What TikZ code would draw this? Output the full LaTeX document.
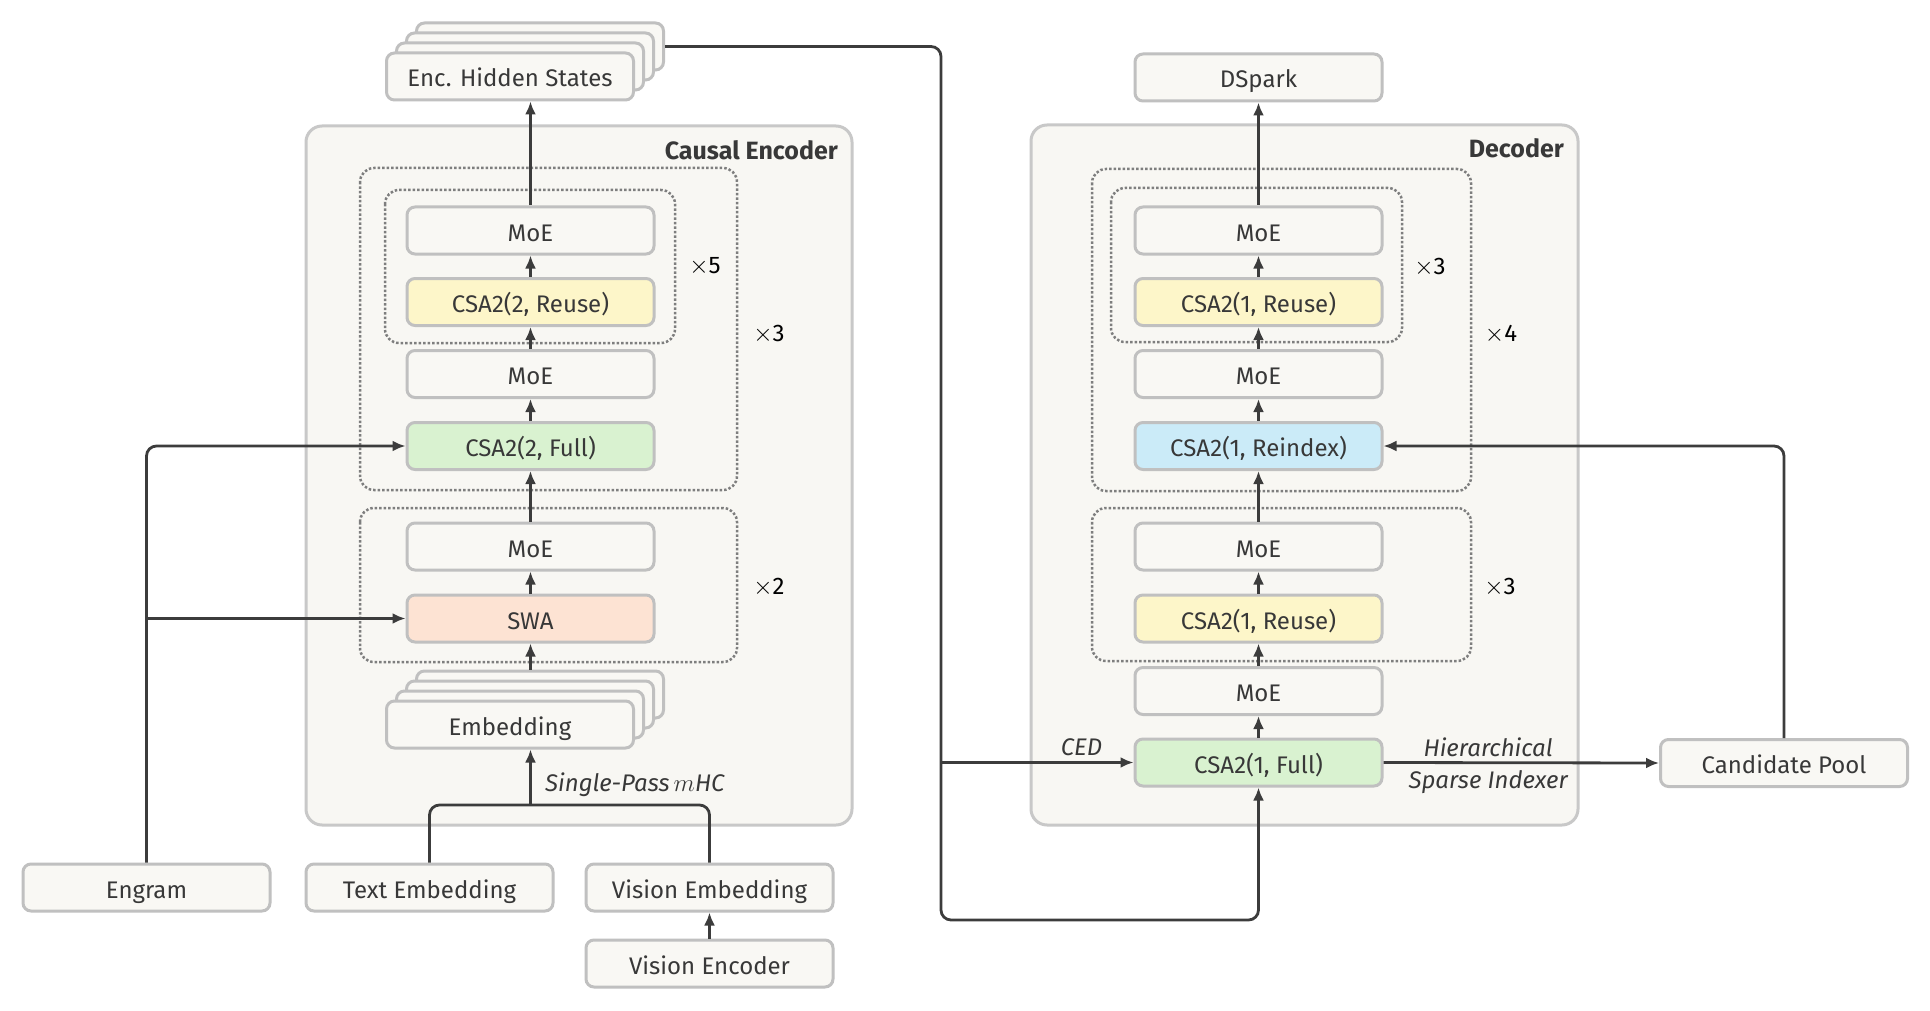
\documentclass[tikz,border=0pt]{standalone}
\usepackage{fontspec}
\setmainfont{Fira Sans}
\usepackage{xcolor}
\usetikzlibrary{
    arrows.meta,
    positioning,
    calc,
}

\definecolor{boxFill}{HTML}{F9F8F4}
\definecolor{boxLine}{HTML}{C0C0C0}
\definecolor{stageFill}{HTML}{F8F7F3}
\definecolor{stageLine}{HTML}{C8C8C8}
\definecolor{dotGray}{HTML}{7E7E7E}
\definecolor{lineGray}{HTML}{3C3C3C}
\definecolor{textGray}{HTML}{383838}
\definecolor{greenFill}{HTML}{D9F2D0}
\definecolor{yellowFill}{HTML}{FDF6C9}
\definecolor{peachFill}{HTML}{FDE3D3}
\definecolor{blueFill}{HTML}{CBEBF8}

\begin{document}
\begin{tikzpicture}[x=1pt,y=-1pt,>={Latex[length=13pt,width=11pt]},font=\fontsize{24}{28}\selectfont]

    \tikzstyle{commonNode}=[draw=boxLine, line width=3pt, rounded corners=8pt, fill=boxFill, text=textGray, align=center, minimum width=247pt, minimum height=47pt, inner sep=0pt, text height=23pt, text depth=2pt]
    \tikzstyle{module}=[commonNode]
    \tikzstyle{fullAttn}=[commonNode, fill=greenFill]
    \tikzstyle{reuseAttn}=[commonNode, fill=yellowFill]
    \tikzstyle{slideAttn}=[commonNode, fill=peachFill]
    \tikzstyle{reindexAttn}=[commonNode, fill=blueFill]
    \tikzstyle{stageBox}=[draw=stageLine, line width=3pt, fill=stageFill, rounded corners=16pt]
    \tikzstyle{repeatBox}=[draw=dotGray, line width=2.5pt, dash pattern=on 2.5pt off 2pt, rounded corners=14pt]
    \tikzstyle{link}=[draw=lineGray, line width=2.8pt, rounded corners=10pt]
    \tikzstyle{pre}=[link, <-]
    \tikzstyle{edgeText}=[text=textGray, font=\fontsize{24}{28}\selectfont\itshape, inner sep=0pt]
    \tikzstyle{repeatText}=[text=black, inner sep=0pt]
    \tikzstyle{titleText}=[text=textGray, font=\fontsize{25}{29}\selectfont\bfseries, inner sep=0pt, anchor=east]

    \fill[white] (0,0) rectangle (1930,1011);
    \useasboundingbox (0,0) rectangle (1930,1011);

    \begin{scope}
        % Column centres
        \def \enccol {530.5}
        \def \deccol {1258.5}

        % Background
        \draw[stageBox] (306,126) rectangle (852,825);
        \draw[stageBox] (1031,125) rectangle (1578,825);
        \node at (838,150) [titleText] {Causal Encoder};
        \node at (1564,148) [titleText] {Decoder};

        % Repeated blocks
        \draw[repeatBox] (360,168) rectangle (737,490);
        \draw[repeatBox] (385,190) rectangle (675,343);
        \draw[repeatBox] (360,508) rectangle (737,662);
        \draw[repeatBox] (1092,169) rectangle (1471,491);
        \draw[repeatBox] (1111,188) rectangle (1402,342);
        \draw[repeatBox] (1092,508) rectangle (1471,661);
        \node at (705,267)  [repeatText] {$\times$5};
        \node at (769,334)  [repeatText] {$\times$3};
        \node at (769,587)  [repeatText] {$\times$2};
        \node at (1430,267) [repeatText] {$\times$3};
        \node at (1501,334) [repeatText] {$\times$4};
        \node at (1500,587) [repeatText] {$\times$3};

        % Inputs
        \node at (146.5,887.5) [module] (ENG)  {Engram};
        \node at (429.5,887.5) [module] (TE)   {Text Embedding};
        \node at (709.5,887.5) [module] (VE)   {Vision Embedding};
        \node at (709.5,963.5) [module] (VENC) {Vision Encoder};
        \draw[->, link] (VENC) -- (VE);

        % Encoder
        \foreach \k in {3,2,1}
            \node at (510+10*\k, 724.5-10*\k) [module] (EMB\k) {};
        \node at (510,724.5) [module] (EMB) {Embedding};
        \node at (\enccol,618.5) [slideAttn] (SWA)   {SWA};
        \node at (\enccol,546.5) [module]    (EMOE3) {MoE}
            edge [pre] (SWA);
        \node at (\enccol,446)   [fullAttn]  (ECF)   {CSA2(2, Full)}
            edge [pre] (EMOE3);
        \node at (\enccol,374)   [module]    (EMOE2) {MoE}
            edge [pre] (ECF);
        \node at (\enccol,302)   [reuseAttn] (ECR)   {CSA2(2, Reuse)}
            edge [pre] (EMOE2);
        \node at (\enccol,230.5) [module]    (EMOE1) {MoE}
            edge [pre] (ECR);
        \foreach \k in {3,2,1}
            \node at (510+10*\k, 76.5-10*\k) [module] (EHS\k) {};
        \node at (510,76.5) [module] (EHS) {Enc. Hidden States};

        \draw[->, link] (SWA.south |- EMB3.north) -- (SWA.south);
        \draw[->, link] (EMOE1.north) -- (EMOE1.north |- EHS.south);

        % Single-pass merge
        \coordinate (MHC) at (\enccol,805);
        \draw[link] (TE.north) |- (MHC) -| (VE.north);
        \draw[->, link] (MHC) -- (MHC |- EMB.south);
        \node at (545,785) [edgeText, anchor=west] {Single-Pass\,{\upshape$m$}HC};

        % Engram feeds
        \draw[->, link] (ENG.north) |- (ECF.west);
        \draw[->, link] (ENG.north |- SWA.west) -- (SWA.west);

        % Decoder
        \node at (\deccol,762.5) [fullAttn]    (DCF)   {CSA2(1, Full)};
        \node at (\deccol,691)   [module]      (DMOE4) {MoE}
            edge [pre] (DCF);
        \node at (\deccol,618.5) [reuseAttn]   (DCR2)  {CSA2(1, Reuse)}
            edge [pre] (DMOE4);
        \node at (\deccol,546.5) [module]      (DMOE3) {MoE}
            edge [pre] (DCR2);
        \node at (\deccol,446)   [reindexAttn] (DCX)   {CSA2(1, Reindex)}
            edge [pre] (DMOE3);
        \node at (\deccol,374)   [module]      (DMOE2) {MoE}
            edge [pre] (DCX);
        \node at (\deccol,302)   [reuseAttn]   (DCR1)  {CSA2(1, Reuse)}
            edge [pre] (DMOE2);
        \node at (\deccol,230.5) [module]      (DMOE1) {MoE}
            edge [pre] (DCR1);
        \node at (\deccol,77.5)  [module]      (DS)    {DSpark}
            edge [pre] (DMOE1);
        \node at (1784,763)      [module]      (CP)    {Candidate Pool};

        % Hidden states to decoder
        \coordinate (BUSC) at (941,762.5);
        \coordinate (BUSB) at (941,920);
        \draw[->, link] (EHS3.east) -| (BUSB) -| (DCF.south);
        \draw[->, link] (BUSC) -- (DCF.west)
            node[pos=0.73, above=5pt, edgeText] {CED};

        % Sparse indexer
        \draw[->, link] (DCF.east) -- (CP.west)
            node[pos=0.38, above=5pt, edgeText] {Hierarchical}
            node[pos=0.38, below=6pt, edgeText] {Sparse Indexer};
        \draw[->, link] (CP.north) |- (DCX.east);
    \end{scope}
\end{tikzpicture}
\end{document}
